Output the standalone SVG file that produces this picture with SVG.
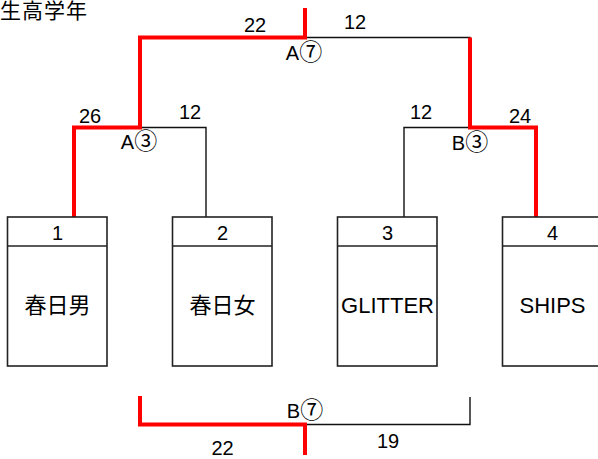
<svg xmlns="http://www.w3.org/2000/svg" width="598" height="459" viewBox="0 0 598 459">
<style>
text{font-family:"Liberation Sans","Noto Sans CJK JP",sans-serif;fill:#000}
.n{font-size:20px;text-anchor:middle}
.b{font-size:22px;text-anchor:middle}
.c{font-family:"Noto Sans CJK JP",sans-serif;font-size:23px}
.box{fill:#fff;stroke:#222;stroke-width:1.6}
.k{fill:none;stroke:#111;stroke-width:1.4}
.r{fill:none;stroke:#f00;stroke-width:4}
</style>
<rect width="598" height="459" fill="#fff"/>
<text x="0" y="18" style="font-size:21px;letter-spacing:1px">生高学年</text>
<g id="connectors">
<path class="k" d="M140 127.5H206V217"/>
<path class="k" d="M470 127.5H404V217"/>
<path class="k" d="M305 37.5H470V45"/>
<path class="k" d="M305 424.5H470V397"/>
<path class="r" d="M74 217V127.5H140V37.5H305V8"/>
<path class="r" d="M470 37.5V127.5H536V217"/>
<path class="r" d="M140 396V424.5H305V455"/>
</g>
<g id="labels">
<text class="n" x="90" y="123">26</text>
<text class="n" x="190" y="119">12</text>
<text class="n" x="139" y="149">A<tspan class="c">③</tspan></text>
<text class="n" x="421" y="119">12</text>
<text class="n" x="520" y="123">24</text>
<text class="n" x="470" y="150">B<tspan class="c">③</tspan></text>
<text class="n" x="255" y="32">22</text>
<text class="n" x="355" y="29">12</text>
<text class="n" x="304" y="60">A<tspan class="c">⑦</tspan></text>
<text class="n" x="305" y="418">B<tspan class="c">⑦</tspan></text>
<text class="n" x="222.5" y="455">22</text>
<text class="n" x="388" y="448">19</text>
</g>
<g id="node1">
<rect class="box" x="7.5" y="217" width="99.5" height="149"/>
<line class="box" x1="7.5" y1="246" x2="107" y2="246"/>
<text class="n" x="57.5" y="240">1</text>
<text class="b" x="57.5" y="313">春日男</text>
</g>
<g id="node2">
<rect class="box" x="172.5" y="217" width="99.5" height="149"/>
<line class="box" x1="172.5" y1="246" x2="272" y2="246"/>
<text class="n" x="222.5" y="240">2</text>
<text class="b" x="222.5" y="313">春日女</text>
</g>
<g id="node3">
<rect class="box" x="337.5" y="217" width="99.5" height="149"/>
<line class="box" x1="337.5" y1="246" x2="437" y2="246"/>
<text class="n" x="387.5" y="240">3</text>
<text class="b" x="387.5" y="313">GLITTER</text>
</g>
<g id="node4">
<rect class="box" x="502.5" y="217" width="99.5" height="149"/>
<line class="box" x1="502.5" y1="246" x2="602" y2="246"/>
<text class="n" x="552.5" y="240">4</text>
<text class="b" x="552.5" y="313">SHIPS</text>
</g>
</svg>
